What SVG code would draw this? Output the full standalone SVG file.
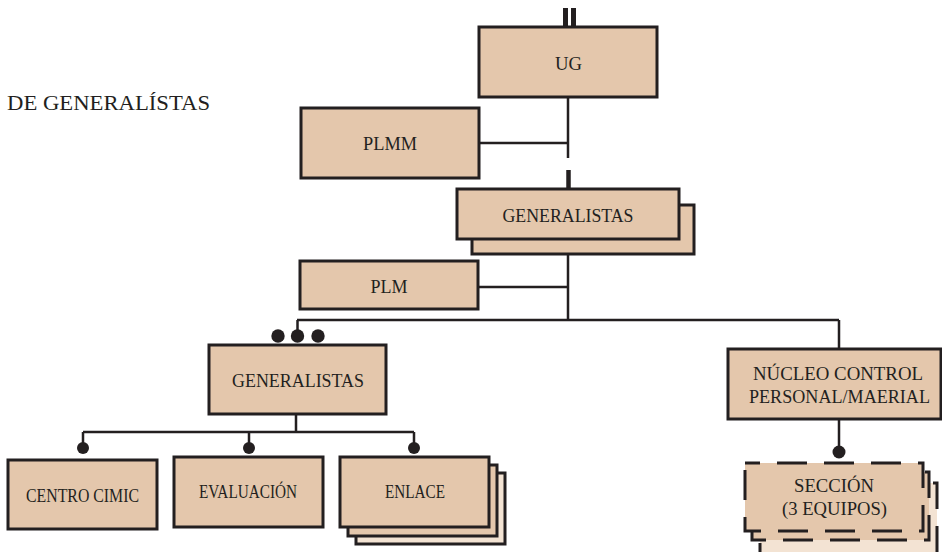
<svg xmlns="http://www.w3.org/2000/svg" width="942" height="552" viewBox="0 0 942 552">
<style>
.box{fill:#e4c7ac;stroke:#231f20;stroke-width:3}
.light{fill:#f3e3d3;stroke:#231f20;stroke-width:3}
.dash{stroke-dasharray:30 17;stroke-dashoffset:15}
.ln{fill:none;stroke:#231f20;stroke-width:2.5}
.dot{fill:#231f20}
text{font-family:"Liberation Serif","Times New Roman",serif;font-size:19px;fill:#231f20;text-anchor:middle}
</style>
<rect width="942" height="552" fill="#ffffff"/>
<text x="7" y="110" style="text-anchor:start;font-size:22px" textLength="203" lengthAdjust="spacingAndGlyphs">DE GENERALÍSTAS</text>
<g id="connectors">
<line x1="565.5" y1="8" x2="565.5" y2="27" stroke="#231f20" stroke-width="5"/>
<line x1="573.5" y1="8" x2="573.5" y2="27" stroke="#231f20" stroke-width="5"/>
<path class="ln" d="M568 97V158M479 143H568"/>
<line x1="568.5" y1="170" x2="568.5" y2="189" stroke="#231f20" stroke-width="4.5"/>
<path class="ln" d="M568 254V320M478 287H568M297 320H839M297.5 320V336M839 320V349M839 419V452M296 414V432M83 432H414M83 432V447M249 432V447M414 432V447"/>
<circle class="dot" cx="278" cy="336" r="6.7"/>
<circle class="dot" cx="297.5" cy="336" r="6.7"/>
<circle class="dot" cx="318" cy="336" r="6.7"/>
<circle class="dot" cx="839" cy="452" r="6.5"/>
<circle class="dot" cx="83" cy="448" r="6"/>
<circle class="dot" cx="249" cy="448" r="6"/>
<circle class="dot" cx="414" cy="448" r="6"/>
</g>
<g id="ug">
<rect class="box" x="479" y="27" width="178" height="70"/>
<text x="568.5" y="70" textLength="27" lengthAdjust="spacingAndGlyphs">UG</text>
</g>
<g id="plmm">
<rect class="box" x="301" y="108" width="178" height="70"/>
<text x="390" y="150" textLength="54" lengthAdjust="spacingAndGlyphs">PLMM</text>
</g>
<g id="generalistas-top">
<rect class="box" x="472" y="205" width="222" height="49"/>
<rect class="box" x="457" y="189" width="222" height="50"/>
<text x="568" y="222" textLength="131" lengthAdjust="spacingAndGlyphs">GENERALISTAS</text>
</g>
<g id="plm">
<rect class="box" x="300" y="261" width="178" height="48"/>
<text x="389" y="293" textLength="37" lengthAdjust="spacingAndGlyphs">PLM</text>
</g>
<g id="generalistas-low">
<rect class="box" x="209" y="345" width="177" height="69"/>
<text x="298" y="387" textLength="132" lengthAdjust="spacingAndGlyphs">GENERALISTAS</text>
</g>
<g id="nucleo">
<rect class="box" x="728" y="349" width="213" height="70"/>
<text x="838" y="380" textLength="170" lengthAdjust="spacingAndGlyphs">NÚCLEO CONTROL</text>
<text x="839.5" y="403" textLength="181" lengthAdjust="spacingAndGlyphs">PERSONAL/MAERIAL</text>
</g>
<g id="centro-cimic">
<rect class="box" x="8" y="460" width="149" height="69"/>
<text x="82.5" y="502" textLength="113" lengthAdjust="spacingAndGlyphs">CENTRO CIMIC</text>
</g>
<g id="evaluacion">
<rect class="box" x="174" y="457" width="149" height="70"/>
<text x="248" y="498" textLength="98" lengthAdjust="spacingAndGlyphs">EVALUACIÓN</text>
</g>
<g id="enlace">
<rect class="light" x="356" y="473" width="149" height="71"/>
<rect class="box" x="348" y="465" width="149" height="71"/>
<rect class="box" x="340" y="457" width="149" height="70"/>
<text x="415" y="498" textLength="60" lengthAdjust="spacingAndGlyphs">ENLACE</text>
</g>
<g id="seccion">
<rect class="light dash" x="760" y="483" width="177" height="72"/>
<rect class="box dash" x="752" y="472" width="177" height="68"/>
<rect class="box dash" x="745" y="463" width="178" height="68"/>
<text x="834" y="492" textLength="80" lengthAdjust="spacingAndGlyphs">SECCIÓN</text>
<text x="834.5" y="515" textLength="105" lengthAdjust="spacingAndGlyphs">(3 EQUIPOS)</text>
</g>
</svg>
